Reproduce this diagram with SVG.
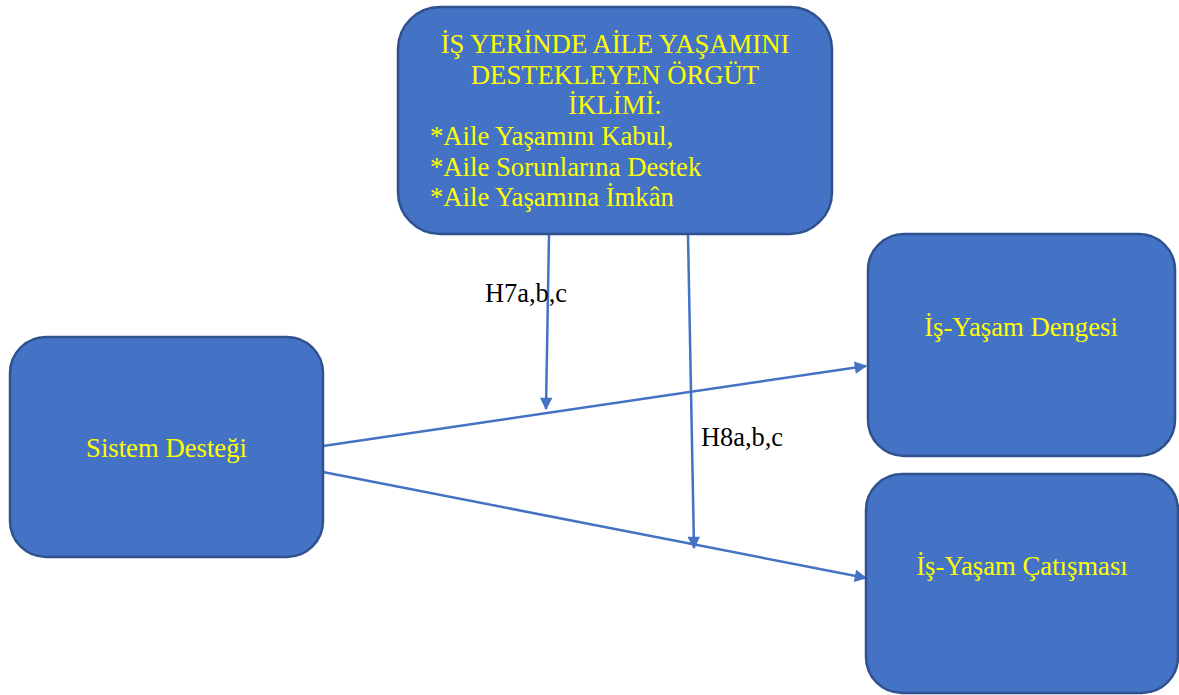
<svg xmlns="http://www.w3.org/2000/svg" width="1179" height="695" viewBox="0 0 1179 695">
<style>
.box{fill:#4472C4;stroke:#2F528F;stroke-width:2.5}
.t{font-family:"Liberation Serif","Times New Roman",serif;font-size:26.7px;fill:#FFFF00}
.lbl{font-family:"Liberation Serif","Times New Roman",serif;font-size:26.4px;fill:#000}
.c{stroke:#4472C4;stroke-width:2.5;fill:none;marker-end:url(#ah)}
</style>
<defs>
<marker id="ah" viewBox="0 0 10 10" refX="9" refY="5" markerWidth="6" markerHeight="5" markerUnits="strokeWidth" orient="auto">
<path d="M0,0 L10,5 L0,10 z" fill="#4472C4"/>
</marker>
</defs>
<rect width="1179" height="695" fill="#fff"/>
<g id="connectors">
<line class="c" x1="323" y1="446" x2="866" y2="366"/>
<line class="c" x1="323" y1="472" x2="866" y2="578"/>
<line class="c" x1="549" y1="235" x2="546" y2="409"/>
<line class="c" x1="688" y1="235" x2="694" y2="548"/>
<text class="lbl" x="485" y="302">H7a,b,c</text>
<text class="lbl" x="701" y="446">H8a,b,c</text>
</g>
<g id="node-climate">
<rect class="box" x="398" y="7" width="434" height="227" rx="42"/>
<text class="t" x="615" y="53" text-anchor="middle">İŞ YERİNDE AİLE YAŞAMINI</text>
<text class="t" x="615" y="84" text-anchor="middle">DESTEKLEYEN ÖRGÜT</text>
<text class="t" x="615" y="114" text-anchor="middle">İKLİMİ:</text>
<text class="t" x="430" y="145">*Aile Yaşamını Kabul,</text>
<text class="t" x="430" y="176">*Aile Sorunlarına Destek</text>
<text class="t" x="430" y="206">*Aile Yaşamına İmkân</text>
</g>
<g id="node-sistem">
<rect class="box" x="10" y="337" width="313" height="220" rx="36"/>
<text class="t" x="166.5" y="457" text-anchor="middle">Sistem Desteği</text>
</g>
<g id="node-denge">
<rect class="box" x="868" y="234" width="307" height="222" rx="36"/>
<text class="t" x="1021" y="336" text-anchor="middle">İş-Yaşam Dengesi</text>
</g>
<g id="node-catisma">
<rect class="box" x="866" y="474" width="312" height="219" rx="36"/>
<text class="t" x="1022" y="575" text-anchor="middle">İş-Yaşam Çatışması</text>
</g>
</svg>
